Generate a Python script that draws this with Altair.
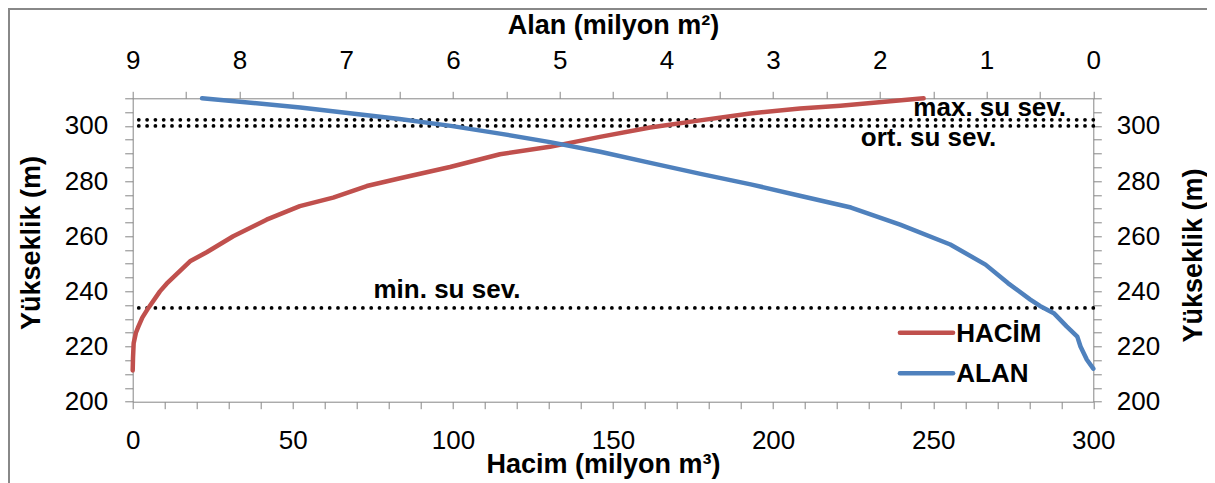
import altair as alt
import pandas as pd

# ---------------- data ----------------
hacim_vol = [0, 0.1, 0.3, 1.0, 1.8, 3.0, 4.9, 8.5, 10.6, 17.9, 23.1, 31.4, 41.8, 52.2,
             62.6, 73.1, 83.5, 99.1, 114.7, 130.3, 145.9, 161.6, 177.2, 192.8,
             208.4, 221.0, 247.0]
hacim_elev = [211.3, 216, 221.2, 225, 227.3, 230.5, 234, 240, 242.8, 250.9, 254.2, 260,
              266, 270.9, 274, 278.2, 281.0, 285.1, 289.7, 292.4, 296.0, 299.4,
              302, 304.5, 306.3, 307.3, 310]

alan_area = [8.35, 7.43, 6.5, 6.02, 5.56, 5.09, 4.62, 4.15, 3.68, 3.21, 2.74, 2.27, 1.81,
             1.34, 1.01, 0.80, 0.59, 0.50, 0.37, 0.25, 0.15, 0.12, 0.06, 0.0]
alan_elev = [310, 306.7, 302.5, 300, 297.2, 294.1, 290.6, 286.6, 282.6, 278.8, 274.6,
             270.4, 264.2, 257, 249.7, 243, 237, 234.7, 232.1, 227.3, 223.6, 220, 215.2, 212]

level_names = ["max. su sev.", "ort. su sev.", "min. su sev."]
level_elev = [302.2, 300, 234]
label_vol = [243.8, 227.4, 75.2]
label_elev = [303.5, 292.6, 237.6]

series_names = ["HACİM", "ALAN"]
series_colors = ["#C0504D", "#4F81BD"]
legend_x1 = [239.6, 239.6]
legend_x2 = [256.2, 256.2]
legend_line_elev = [225.0, 210.3]
legend_text_vol = [257.2, 257.2]
legend_text_elev = [221.8, 207.3]

vol_ticks = list(range(0, 301, 10))
elev_ticks = list(range(200, 311, 5))
area_ticks = [i * 0.5 for i in range(19)]

# ---------------- frames ----------------
hacim_df = pd.DataFrame({"vol": hacim_vol, "elev": hacim_elev})
alan_df = pd.DataFrame({"area": alan_area, "elev": alan_elev})
level_df = pd.DataFrame({"name": level_names, "elev": level_elev})
label_df = pd.DataFrame({"name": level_names, "vol": label_vol, "elev": label_elev})
legend_df = pd.DataFrame({"name": series_names, "color": series_colors,
                          "x1": legend_x1, "x2": legend_x2, "elev": legend_line_elev,
                          "tvol": legend_text_vol, "telev": legend_text_elev})

FONT = "Liberation Sans"
GRAY = "#868686"
W, H = 960.6, 303.4
PAD = {"left": 124.7, "top": 90.3, "right": 113.7, "bottom": 81.3}

common = dict(domainColor=GRAY, tickColor=GRAY, domainWidth=1, tickWidth=1,
              labelColor="black", labelFont=FONT, labelFontSize=26,
              titleFont=FONT, titleFontSize=27, titleFontWeight="bold",
              titleColor="black", grid=False, labelOverlap=False)

x_axis = alt.Axis(orient="bottom", values=vol_ticks,
                  labelExpr="datum.value % 50 === 0 ? datum.label : ''",
                  tickSize=7, labelPadding=19, labelFlush=False,
                  title="Hacim (milyon m³)", titleX=470.3, titleY=70.5,
                  titleAlign="center", titleBaseline="alphabetic", **common)
y_axis = alt.Axis(orient="left", values=elev_ticks,
                  labelExpr="datum.value % 20 === 0 ? datum.label : ''",
                  tickSize=8, labelPadding=17,
                  title="Yükseklik (m)", titleAngle=270, titleX=-101, titleY=144.2,
                  titleAlign="center", titleBaseline="middle", **common)
a_axis = alt.Axis(orient="top", values=area_ticks,
                  labelExpr="datum.value % 1 === 0 ? format(datum.value, 'd') : ''",
                  tickSize=7, labelPadding=18, labelFlush=False,
                  title="Alan (milyon m²)", titleX=480.3, titleY=-65.3,
                  titleAlign="center", titleBaseline="alphabetic", **common)
y2_axis = alt.Axis(orient="right", values=elev_ticks,
                   labelExpr="datum.value % 20 === 0 ? datum.label : ''",
                   tickSize=8, labelPadding=15,
                   title="Yükseklik (m)", titleAngle=270, titleX=100.2, titleY=156.7,
                   titleAlign="center", titleBaseline="middle", **common)

x_scale = alt.Scale(domain=[0, 300], nice=False, zero=False)
y_scale = alt.Scale(domain=[200, 310], nice=False, zero=False)
a_scale = alt.Scale(domain=[0, 9], reverse=True, nice=False, zero=False)


def X(field):
    return alt.X(field, type="quantitative", scale=x_scale, axis=x_axis)


def Y(field):
    return alt.Y(field, type="quantitative", scale=y_scale, axis=y_axis)


hacim_line = alt.Chart(hacim_df).mark_line(
    color=series_colors[0], strokeWidth=4.5, strokeCap="round", strokeJoin="round"
).encode(x=X("vol"), y=Y("elev"), order=alt.Order("elev:Q"))

rules = alt.Chart(level_df).mark_rule(
    color="black", strokeWidth=3.8, strokeDash=[0, 8.3], strokeCap="round"
).encode(y=Y("elev"))

labels = alt.Chart(label_df).mark_text(
    align="left", baseline="alphabetic", font=FONT, fontSize=26, fontWeight="bold",
    color="black"
).encode(x=X("vol"), y=Y("elev"), text="name:N")

leg_lines = alt.Chart(legend_df).mark_rule(strokeWidth=4.5, strokeCap="round").encode(
    x=X("x1"), x2="x2:Q", y=Y("elev"),
    color=alt.Color("color:N", scale=None)
)
leg_text = alt.Chart(legend_df).mark_text(
    align="left", baseline="alphabetic", font=FONT, fontSize=26, fontWeight="bold",
    color="black"
).encode(x=X("tvol"), y=Y("telev"), text="name:N")

border = alt.Chart(legend_df).mark_rect(
    fillOpacity=0, stroke="#888888", strokeWidth=2
).encode(x=alt.value(-PAD["left"] + 1), y=alt.value(-PAD["top"] + 1),
         x2=alt.value(W + 300), y2=alt.value(H + 300))

inner = alt.layer(border, rules, hacim_line, labels, leg_lines, leg_text)

alan_line = alt.Chart(alan_df).mark_line(
    color=series_colors[1], strokeWidth=4.5, strokeCap="round", strokeJoin="round"
).encode(
    x=alt.X("area:Q", scale=a_scale, axis=a_axis),
    y=alt.Y("elev:Q", scale=y_scale, axis=y2_axis),
    order=alt.Order("elev:Q"),
)

chart = alt.layer(inner, alan_line).resolve_scale(
    x="independent", y="independent"
).properties(
    width=W, height=H, padding=PAD,
    autosize=alt.AutoSizeParams(type="none"),
    background="white",
).configure_view(stroke=None)

chart.save("out.html", embed_options={"renderer": "svg", "actions": False})
